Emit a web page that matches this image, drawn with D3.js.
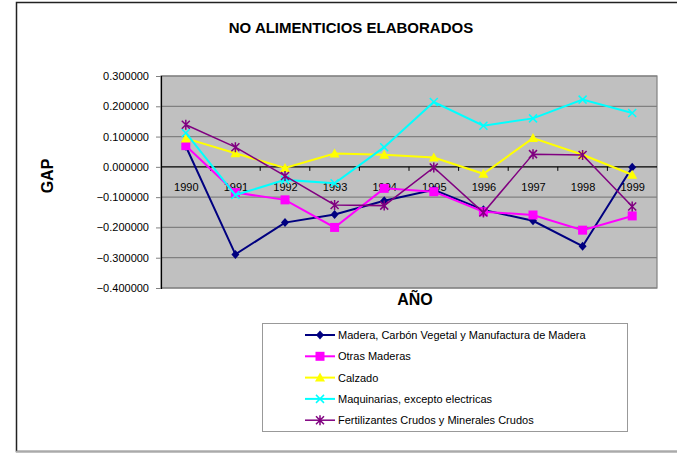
<!DOCTYPE html>
<html>
<head>
<meta charset="utf-8">
<script src="https://cdn.jsdelivr.net/npm/d3@7"></script>
<style>
html,body{margin:0;padding:0;background:#fff;}
svg{display:block;font-family:"Liberation Sans",Arial,sans-serif;}
</style>
</head>
<body>
<svg id="chart" width="677" height="453"></svg>
<script>
const years = ["1990","1991","1992","1993","1994","1995","1996","1997","1998","1999"];
const yTicks = [0.3,0.2,0.1,0,-0.1,-0.2,-0.3,-0.4];
const madera = [0.068,-0.289,-0.184,-0.157,-0.112,-0.076,-0.142,-0.178,-0.262,-0.001];
const otras = [0.070,-0.085,-0.109,-0.200,-0.071,-0.082,-0.148,-0.159,-0.209,-0.162];
const calzado = [0.094,0.045,-0.004,0.044,0.040,0.031,-0.023,0.095,0.040,-0.026];
const maquinarias = [0.112,-0.093,-0.043,-0.054,0.065,0.214,0.136,0.160,0.222,0.178];
const fertilizantes = [0.139,0.065,-0.030,-0.126,-0.128,-0.002,-0.151,0.042,0.039,-0.131];
const seriesNames = ["Madera, Carbón Vegetal y Manufactura de Madera","Otras Maderas","Calzado","Maquinarias, excepto electricas","Fertilizantes Crudos y Minerales Crudos"];
const seriesColors = ["#000080","#FF00FF","#FFFF00","#00FFFF","#800080"];
const seriesMarkers = ["diamond","square","triangle","x","star"];
const seriesData = [madera,otras,calzado,maquinarias,fertilizantes];

const FONT = "'Liberation Sans', Arial, sans-serif";
const svg = d3.select("#chart");
// outer frame
svg.append("rect").attr("x",16.5).attr("y",2.5).attr("width",700).attr("height",449)
  .attr("fill","#fff").attr("stroke","#222").attr("stroke-width",1.5);
svg.append("line").attr("x1",16).attr("x2",700).attr("y1",451.5).attr("y2",451.5).attr("stroke","#aaa").attr("stroke-width",1.5);

const L=161, R=657, T=76, B=288;
const x = d3.scalePoint().domain(years).range([L,R]).padding(0.5);
const y = d3.scaleLinear().domain([-0.4,0.3]).range([B,T]);

svg.append("rect").attr("x",L).attr("y",T).attr("width",R-L).attr("height",B-T)
  .attr("fill","#C0C0C0").attr("stroke","#808080").attr("stroke-width",1.2);

// gridlines
svg.append("g").selectAll("line").data(yTicks.filter(d=>d!==0)).join("line")
  .attr("x1",L).attr("x2",R).attr("y1",d=>y(d)).attr("y2",d=>y(d))
  .attr("stroke","#808080").attr("stroke-width",1.2);

// y axis
const yAxis = d3.axisLeft(y).tickValues(yTicks).tickFormat(d3.format(".6f")).tickSize(5).tickPadding(7);
const gy = svg.append("g").attr("transform",`translate(${L},0)`).call(yAxis);
gy.attr("font-family",FONT);
gy.select(".domain").attr("stroke","#000").attr("stroke-width",1.2);
gy.selectAll(".tick line").attr("stroke","#808080");
gy.selectAll("text").attr("font-size",11).attr("fill","#000");

// x axis on zero line
const step = x.step();
const xAxis = d3.axisBottom(x).tickSize(0).tickPadding(16);
const gx = svg.append("g").attr("transform",`translate(0,${y(0)})`).call(xAxis);
gx.attr("font-family",FONT);
gx.select(".domain").remove();
gx.selectAll("text").attr("font-size",11).attr("fill","#000");
svg.append("line").attr("x1",L).attr("x2",R).attr("y1",y(0)).attr("y2",y(0)).attr("stroke","#000").attr("stroke-width",1.2);
svg.append("g").selectAll("line").data(years.slice(1)).join("line")
  .attr("x1",d=>x(d)-step/2).attr("x2",d=>x(d)-step/2)
  .attr("y1",y(0)).attr("y2",y(0)+4).attr("stroke","#000");

// marker drawing
function marker(g, type, color, cx, cy){
  if(type==="diamond"){
    g.append("path").attr("d",`M${cx},${cy-4.5}L${cx+4},${cy}L${cx},${cy+4.5}L${cx-4},${cy}Z`).attr("fill",color);
  } else if(type==="square"){
    g.append("rect").attr("x",cx-4.5).attr("y",cy-4.5).attr("width",9).attr("height",9).attr("fill",color);
  } else if(type==="triangle"){
    g.append("path").attr("d",`M${cx},${cy-5}L${cx+5},${cy+4}L${cx-5},${cy+4}Z`).attr("fill",color);
  } else if(type==="x"){
    g.append("path").attr("d",`M${cx-4},${cy-4}L${cx+4},${cy+4}M${cx-4},${cy+4}L${cx+4},${cy-4}`).attr("stroke",color).attr("stroke-width",1.5);
  } else if(type==="star"){
    g.append("path").attr("d",`M${cx-4},${cy-4}L${cx+4},${cy+4}M${cx-4},${cy+4}L${cx+4},${cy-4}M${cx},${cy-5}L${cx},${cy+5}`).attr("stroke",color).attr("stroke-width",1.5);
  }
}

const line = d3.line().x((d,i)=>x(years[i])).y(d=>y(d));
seriesData.forEach((vals,k)=>{
  const g = svg.append("g");
  g.append("path").datum(vals).attr("d",line).attr("fill","none")
    .attr("stroke",seriesColors[k]).attr("stroke-width",k===4?1.5:2);
  vals.forEach((v,i)=>marker(g,seriesMarkers[k],seriesColors[k],x(years[i]),y(v)));
});

// title & axis labels
svg.append("text").attr("x",351).attr("y",33).attr("text-anchor","middle")
  .attr("font-weight","bold").attr("font-size",15).text("NO ALIMENTICIOS ELABORADOS");
svg.append("text").attr("transform","translate(53,176) rotate(-90)").attr("text-anchor","middle")
  .attr("font-weight","bold").attr("font-size",16).text("GAP");
svg.append("text").attr("x",415).attr("y",305).attr("text-anchor","middle")
  .attr("font-weight","bold").attr("font-size",16).text("AÑO");

// legend
const lg = svg.append("g");
lg.append("rect").attr("x",262.5).attr("y",323.5).attr("width",365).attr("height",108)
  .attr("fill","#fff").attr("stroke","#999").attr("stroke-width",1);
seriesNames.forEach((n,k)=>{
  const yy = 335 + k*21.3;
  lg.append("line").attr("x1",305).attr("x2",335).attr("y1",yy).attr("y2",yy)
    .attr("stroke",seriesColors[k]).attr("stroke-width",k===4?1.5:2);
  marker(lg,seriesMarkers[k],seriesColors[k],320,yy);
  lg.append("text").attr("x",338).attr("y",yy+4).attr("font-size",11).text(n);
});
</script>
</body>
</html>
